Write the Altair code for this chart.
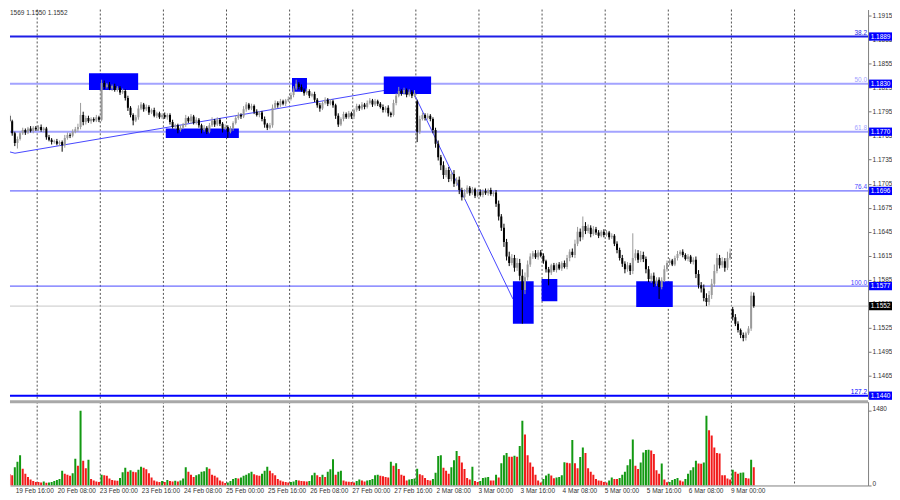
import altair as alt
import pandas as pd

FONT = "Liberation Sans"

# ---------------- hourly closes (EURUSD H1) ----------------
close_19feb = [1.1783, 1.1768, 1.1756, 1.1761, 1.1768, 1.1772, 1.1769, 1.1774, 1.1771, 1.1775, 1.1773]
close_20feb = [1.1776, 1.1772, 1.1774, 1.1763, 1.1760, 1.1757, 1.1758, 1.1755, 1.1757, 1.1753, 1.1762, 1.1766,
               1.1765, 1.1770, 1.1773, 1.1776, 1.1791, 1.1782, 1.1787, 1.1783, 1.1786, 1.1784, 1.1788, 1.1785]
close_23feb = [1.1831, 1.1826, 1.1829, 1.1824, 1.1827, 1.1822, 1.1825, 1.1819, 1.1821, 1.1812, 1.1800, 1.1791,
               1.1784, 1.1788, 1.1799, 1.1804, 1.1798, 1.1801, 1.1794, 1.1797, 1.1790, 1.1793, 1.1788, 1.1791]
close_24feb = [1.1788, 1.1791, 1.1782, 1.1776, 1.1778, 1.1772, 1.1775, 1.1779, 1.1787, 1.1783, 1.1789, 1.1781,
               1.1785, 1.1778, 1.1772, 1.1775, 1.1770, 1.1778, 1.1784, 1.1779, 1.1785, 1.1780, 1.1774, 1.1776]
close_25feb = [1.1770, 1.1774, 1.1781, 1.1787, 1.1791, 1.1789, 1.1798, 1.1804, 1.1799, 1.1802, 1.1795, 1.1791,
               1.1794, 1.1786, 1.1779, 1.1775, 1.1778, 1.1800, 1.1806, 1.1803, 1.1808, 1.1805, 1.1809, 1.1811]
close_26feb = [1.1816, 1.1824, 1.1830, 1.1826, 1.1822, 1.1818, 1.1821, 1.1815, 1.1817, 1.1810, 1.1803, 1.1799,
               1.1806, 1.1810, 1.1805, 1.1808, 1.1803, 1.1790, 1.1779, 1.1786, 1.1792, 1.1788, 1.1793, 1.1789]
close_27feb = [1.1797, 1.1802, 1.1799, 1.1804, 1.1801, 1.1806, 1.1809, 1.1804, 1.1808, 1.1805, 1.1801, 1.1797,
               1.1800, 1.1793, 1.1791, 1.1806, 1.1815, 1.1821, 1.1818, 1.1822, 1.1816, 1.1820, 1.1815, 1.1818]
close_2mar = [1.1770, 1.1786, 1.1791, 1.1787, 1.1790, 1.1786, 1.1772, 1.1755, 1.1738, 1.1728, 1.1716, 1.1722,
              1.1711, 1.1717, 1.1705, 1.1710, 1.1697, 1.1688, 1.1694, 1.1700, 1.1693, 1.1698, 1.1690, 1.1695]
close_3mar = [1.1691, 1.1696, 1.1693, 1.1697, 1.1692, 1.1694, 1.1680, 1.1664, 1.1650, 1.1632, 1.1614, 1.1606,
              1.1612, 1.1600, 1.1606, 1.1590, 1.1572, 1.1588, 1.1604, 1.1614, 1.1618, 1.1613, 1.1619, 1.1615]
close_4mar = [1.1608, 1.1598, 1.1594, 1.1603, 1.1597, 1.1604, 1.1599, 1.1606, 1.1601, 1.1612, 1.1620, 1.1616,
              1.1630, 1.1645, 1.1638, 1.1652, 1.1646, 1.1650, 1.1642, 1.1648, 1.1644, 1.1640, 1.1645, 1.1641]
close_5mar = [1.1644, 1.1638, 1.1640, 1.1630, 1.1622, 1.1612, 1.1605, 1.1598, 1.1603, 1.1596, 1.1612, 1.1618,
              1.1610, 1.1616, 1.1611, 1.1598, 1.1586, 1.1590, 1.1580, 1.1585, 1.1576, 1.1584, 1.1598, 1.1606]
close_6mar = [1.1609, 1.1604, 1.1612, 1.1617, 1.1620, 1.1616, 1.1611, 1.1614, 1.1607, 1.1610, 1.1592, 1.1578,
              1.1574, 1.1562, 1.1557, 1.1566, 1.1580, 1.1596, 1.1612, 1.1603, 1.1608, 1.1600, 1.1612, 1.1618]
close_9mar = [1.1538, 1.1530, 1.1522, 1.1516, 1.1512, 1.1518, 1.1524, 1.1565, 1.1552]

first_open = 1.1790
gap_open_index = [155, 275]
gap_open_price = [1.1808, 1.1548]

# ---------------- wick lengths in pips (upper / lower) ----------------
up_19feb = [3, 2, 2, 3, 2, 3, 2, 2, 3, 2, 2]
lo_19feb = [2, 3, 4, 7, 2, 2, 3, 2, 2, 3, 2]
up_20feb = [2, 3, 2, 2, 3, 2, 2, 3, 2, 2, 4, 3, 2, 3, 3, 4, 15, 4, 3, 3, 2, 2, 3, 2]
lo_20feb = [2, 2, 3, 3, 2, 3, 2, 2, 3, 8, 3, 2, 3, 2, 2, 3, 3, 4, 3, 2, 3, 2, 2, 3]
up_23feb = [4, 3, 2, 3, 2, 3, 2, 2, 3, 2, 3, 2, 2, 3, 4, 3, 2, 3, 2, 2, 3, 2, 2, 2]
lo_23feb = [2, 3, 2, 2, 3, 2, 2, 3, 2, 3, 4, 3, 6, 2, 3, 2, 3, 2, 3, 2, 2, 3, 2, 2]
up_24feb = [3, 2, 2, 3, 2, 2, 3, 2, 4, 2, 3, 2, 3, 2, 2, 3, 2, 3, 4, 2, 3, 2, 2, 3]
lo_24feb = [2, 3, 3, 2, 3, 4, 2, 2, 3, 2, 3, 2, 2, 3, 4, 2, 3, 2, 2, 3, 2, 3, 5, 2]
up_25feb = [2, 3, 2, 3, 3, 2, 4, 3, 2, 3, 2, 3, 2, 2, 3, 2, 3, 4, 3, 2, 3, 2, 2, 3]
lo_25feb = [8, 2, 3, 2, 2, 3, 2, 3, 2, 2, 3, 2, 3, 3, 4, 3, 2, 3, 2, 3, 2, 2, 3, 2]
up_26feb = [3, 3, 5, 2, 3, 2, 3, 2, 2, 3, 2, 3, 2, 3, 2, 3, 2, 2, 3, 2, 3, 2, 3, 2]
lo_26feb = [2, 3, 2, 3, 2, 3, 2, 3, 2, 3, 3, 4, 2, 2, 3, 2, 3, 4, 3, 2, 3, 2, 2, 3]
up_27feb = [2, 3, 2, 3, 2, 3, 3, 2, 3, 2, 2, 3, 2, 3, 2, 4, 3, 5, 2, 3, 2, 3, 2, 4]
lo_27feb = [3, 2, 3, 2, 3, 2, 2, 3, 2, 3, 2, 3, 3, 4, 3, 2, 3, 2, 3, 2, 3, 2, 3, 2]
up_2mar = [2, 4, 3, 2, 3, 2, 2, 3, 4, 3, 5, 3, 4, 3, 5, 3, 4, 3, 4, 3, 2, 3, 2, 3]
lo_2mar = [13, 3, 2, 3, 2, 3, 4, 5, 4, 6, 5, 3, 4, 3, 4, 3, 5, 4, 3, 2, 3, 2, 3, 2]
up_3mar = [3, 2, 3, 2, 3, 2, 3, 4, 3, 5, 4, 6, 5, 4, 6, 5, 8, 6, 5, 4, 3, 4, 3, 3]
lo_3mar = [2, 3, 2, 3, 2, 3, 4, 5, 4, 6, 5, 4, 3, 5, 4, 6, 42, 5, 4, 3, 3, 2, 3, 2]
up_4mar = [3, 2, 3, 2, 3, 2, 3, 2, 3, 4, 3, 4, 5, 6, 4, 12, 5, 4, 3, 4, 3, 3, 2, 3]
lo_4mar = [3, 4, 16, 3, 2, 3, 2, 3, 2, 3, 4, 3, 4, 3, 5, 3, 4, 3, 4, 2, 3, 3, 2, 3]
up_5mar = [3, 2, 3, 2, 3, 3, 4, 3, 4, 3, 31, 5, 4, 5, 4, 3, 4, 3, 4, 3, 3, 4, 5, 3]
lo_5mar = [2, 3, 2, 3, 4, 3, 4, 5, 3, 5, 4, 3, 4, 3, 4, 5, 4, 5, 4, 3, 15, 3, 2, 3]
up_6mar = [3, 2, 3, 4, 2, 3, 2, 3, 2, 3, 4, 5, 4, 5, 6, 5, 6, 8, 6, 4, 5, 4, 8, 6]
lo_6mar = [3, 2, 2, 3, 2, 3, 2, 3, 2, 3, 5, 4, 5, 4, 5, 4, 5, 4, 3, 4, 3, 5, 3, 2]
up_9mar = [3, 4, 3, 2, 3, 2, 3, 5, 4]
lo_9mar = [4, 3, 3, 4, 4, 3, 2, 3, 2]

# ---------------- hourly tick volumes ----------------
vol_19feb = [220, 200, 360, 470, 600, 330, 230, 170, 120, 90, 70]
vol_20feb = [70, 60, 80, 55, 60, 70, 90, 110, 130, 290, 230, 210, 190, 240, 530, 390, 1480, 490, 340, 510, 130, 100, 80, 70]
vol_23feb = [210, 200, 190, 140, 110, 100, 95, 150, 260, 350, 270, 300, 270, 260, 310, 370, 350, 320, 240, 160, 100, 80, 70, 90]
vol_24feb = [70, 110, 90, 80, 95, 80, 100, 140, 360, 270, 210, 170, 200, 220, 270, 280, 360, 330, 210, 190, 160, 100, 80, 50]
vol_25feb = [60, 90, 130, 150, 140, 160, 190, 210, 240, 270, 220, 200, 190, 230, 290, 370, 290, 240, 200, 130, 100, 80, 70, 60]
vol_26feb = [70, 80, 110, 100, 90, 85, 80, 90, 200, 250, 200, 170, 210, 170, 270, 320, 520, 210, 270, 290, 100, 80, 75, 70]
vol_27feb = [60, 90, 120, 100, 80, 100, 110, 130, 200, 210, 190, 180, 170, 160, 470, 390, 440, 325, 210, 190, 100, 120, 130, 140]
vol_2mar = [330, 220, 200, 150, 110, 100, 130, 250, 585, 600, 350, 290, 230, 360, 500, 680, 585, 455, 325, 150, 120, 370, 90, 70]
vol_3mar = [90, 150, 160, 170, 100, 100, 210, 160, 440, 600, 640, 570, 570, 590, 570, 780, 1280, 1010, 600, 455, 370, 210, 100, 60]
vol_4mar = [130, 195, 230, 195, 145, 160, 170, 200, 460, 450, 440, 900, 440, 340, 565, 750, 640, 340, 270, 210, 130, 100, 95, 70]
vol_5mar = [60, 100, 160, 130, 130, 150, 210, 270, 400, 520, 910, 390, 325, 455, 650, 700, 705, 690, 620, 300, 230, 435, 120, 65]
vol_6mar = [70, 110, 130, 150, 100, 80, 130, 230, 300, 360, 490, 435, 430, 455, 1380, 1090, 990, 750, 640, 630, 200, 200, 140, 120]
vol_9mar = [310, 270, 230, 250, 255, 150, 140, 510, 360]

# ---------------- axes / annotations ----------------
day_starts = [11, 35, 59, 83, 107, 131, 155, 179, 203, 227, 251, 275, 299]
label_hours = [3, 19, 35, 51, 67, 83, 99, 115, 131, 147, 163, 179, 195, 211, 227, 243, 259, 275]
label_texts = ["19 Feb 16:00", "20 Feb 08:00", "23 Feb 00:00", "23 Feb 16:00", "24 Feb 08:00", "25 Feb 00:00",
               "25 Feb 16:00", "26 Feb 08:00", "27 Feb 00:00", "27 Feb 16:00", "2 Mar 08:00", "3 Mar 00:00",
               "3 Mar 16:00", "4 Mar 08:00", "5 Mar 00:00", "5 Mar 16:00", "6 Mar 08:00", "9 Mar 00:00"]
price_ticks = [1.1435, 1.1465, 1.1495, 1.1525, 1.1555, 1.1585, 1.1615, 1.1645, 1.1675, 1.1705,
               1.1735, 1.1765, 1.1795, 1.1825, 1.1855, 1.1885, 1.1915]
volume_ticks = [0, 1480]

levels_price = [1.1889, 1.1830, 1.1770, 1.1696, 1.1577, 1.1440]
levels_name = ["38.2", "50.0", "61.8", "76.4", "100.0", "127.2"]
levels_color = ["#1e1ee6", "#a3a3ff", "#a3a3ff", "#4848ff", "#4848ff", "#0000ff"]
levels_width = [2, 2, 2, 1, 1, 2]
bid_price = 1.1552

rect_t0 = [30.7, 59.9, 107.9, 142.8, 191.9, 202.8, 238.8]
rect_t1 = [49.4, 87.7, 113.6, 160.8, 199.8, 208.8, 252.7]
rect_top = [1.1843, 1.1774, 1.1837, 1.1839, 1.1583, 1.1586, 1.1583]
rect_bot = [1.1822, 1.1762, 1.1820, 1.1817, 1.1530, 1.1558, 1.1551]

trend_t = [-0.44, 2.56, 152.9, 191.9]
trend_p = [1.17456, 1.17431, 1.18271, 1.15610]

header_text = "1569 1.1550 1.1552"

# ---------------- build tables ----------------
closes = (close_19feb + close_20feb + close_23feb + close_24feb + close_25feb + close_26feb + close_27feb
          + close_2mar + close_3mar + close_4mar + close_5mar + close_6mar + close_9mar)
up_w = (up_19feb + up_20feb + up_23feb + up_24feb + up_25feb + up_26feb + up_27feb
        + up_2mar + up_3mar + up_4mar + up_5mar + up_6mar + up_9mar)
lo_w = (lo_19feb + lo_20feb + lo_23feb + lo_24feb + lo_25feb + lo_26feb + lo_27feb
        + lo_2mar + lo_3mar + lo_4mar + lo_5mar + lo_6mar + lo_9mar)
vols = (vol_19feb + vol_20feb + vol_23feb + vol_24feb + vol_25feb + vol_26feb + vol_27feb
        + vol_2mar + vol_3mar + vol_4mar + vol_5mar + vol_6mar + vol_9mar)

BULL, BEAR = "#9a9a9a", "#000000"
rows = []
prev = first_open
for i, c in enumerate(closes):
    o = gap_open_price[gap_open_index.index(i)] if i in gap_open_index else prev
    hi = round(max(o, c) + up_w[i] * 0.0001, 5)
    lo = round(min(o, c) - lo_w[i] * 0.0001, 5)
    rows.append({"t": i + 0.5, "open": o, "close": c, "high": hi, "low": lo,
                 "col": BULL if c > o else BEAR})
    prev = c
candles = pd.DataFrame(rows)

vrows = []
for i, v in enumerate(vols):
    up = i > 0 and v > vols[i - 1]
    vrows.append({"t": i + 0.5, "vol": v, "col": "#129912" if up else "#f21a1a"})
volumes = pd.DataFrame(vrows)

days = pd.DataFrame({"t": day_starts})
levels = pd.DataFrame({"price": levels_price + [bid_price],
                       "color": levels_color + ["#c8c8c8"],
                       "w": levels_width + [1]})
fibs = pd.DataFrame({"price": levels_price, "name": levels_name, "color": levels_color})
tags = pd.DataFrame({"price": levels_price + [bid_price],
                     "label": ["%.4f" % p for p in levels_price] + ["%.4f" % bid_price],
                     "color": ["#0000ff"] * len(levels_price) + ["#000000"]})
rects = pd.DataFrame({"t0": rect_t0, "t1": rect_t1, "top": rect_top, "bot": rect_bot})
trend = pd.DataFrame({"t": trend_t, "p": trend_p, "k": list(range(len(trend_t)))})
header = pd.DataFrame({"txt": [header_text]})

# ---------------- scales ----------------
W = 860
VH = 84
X_DOMAIN = [2.5625, 2.5625 + W / (64 / 24)]
xs = alt.Scale(domain=X_DOMAIN, nice=False, zero=False)
ys = alt.Scale(domain=[1.14363, 1.19227], nice=False, zero=False)
vs = alt.Scale(domain=[0, 1480 * VH / 75.0], nice=False, zero=False)

price_axis = alt.Axis(orient="right", values=price_ticks, format=".4f", title=None, grid=False,
                      labelFont=FONT, labelFontSize=6.5, labelColor="#333333", labelPadding=1,
                      tickSize=3, tickColor="#777777", domainColor="#808080", domainWidth=1)


def X(f):
    return alt.X(f, type="quantitative", scale=xs, axis=None)


def Y(f):
    return alt.Y(f, type="quantitative", scale=ys, axis=price_axis)


grid_main = alt.Chart(days).mark_rule(color="#505050", strokeDash=[2, 2], strokeWidth=1).encode(x=X("t"))
lvl = alt.Chart(levels).mark_rule().encode(
    y=Y("price"), color=alt.Color("color:N", scale=None), strokeWidth=alt.StrokeWidth("w:Q", scale=None))
trend_line = alt.Chart(trend).mark_line(color="#4646ff", strokeWidth=1, clip=True).encode(
    x=X("t"), y=Y("p"), order="k:O")
boxes = alt.Chart(rects).mark_rect(color="#0000ff", opacity=1, clip=True).encode(
    x=X("t0"), x2="t1", y=Y("top"), y2="bot")
wicks = alt.Chart(candles).mark_rule(strokeWidth=1, clip=True).encode(
    x=X("t"), y=Y("low"), y2="high", color=alt.Color("col:N", scale=None))
bodies = alt.Chart(candles).mark_bar(size=2, clip=True).encode(
    x=X("t"), y=Y("open"), y2="close", color=alt.Color("col:N", scale=None))
fib_txt = alt.Chart(fibs).mark_text(align="right", baseline="bottom", font=FONT, fontSize=6.5, dy=-0.5).encode(
    x=alt.value(W - 1), y=Y("price"), text="name:N", color=alt.Color("color:N", scale=None))
TAG = "M-1,-0.36L1,-0.36L1,0.36L-1,0.36Z"
tag_box = alt.Chart(tags).mark_point(shape=TAG, filled=True, size=529, opacity=1, strokeWidth=0).encode(
    x=alt.value(W + 12.5), y=Y("price"), color=alt.Color("color:N", scale=None))
tag_txt = alt.Chart(tags).mark_text(font=FONT, fontSize=6.5, color="white", align="center",
                                    baseline="middle").encode(
    x=alt.value(W + 12.5), y=Y("price"), text="label:N")
head = alt.Chart(header).mark_text(font=FONT, fontSize=6.5, color="#333333", align="left",
                                   baseline="top").encode(x=alt.value(0), y=alt.value(0), text="txt:N")

main = alt.layer(grid_main, lvl, trend_line, boxes, wicks, bodies, fib_txt, tag_box, tag_txt, head).properties(
    width=W, height=390)

label_expr = "[" + ",".join("'%s'" % s for s in label_texts) + "][round((datum.value - 3) / 16)]"
time_axis = alt.Axis(orient="bottom", values=label_hours, labelExpr=label_expr, title=None, grid=False,
                     ticks=False, tickSize=0, labelAlign="left", labelOffset=-1, labelPadding=2,
                     labelFlush=False, labelOverlap=False, labelFont=FONT, labelFontSize=6.5,
                     labelColor="#333333", domainColor="#808080", domainWidth=1)
vol_axis = alt.Axis(orient="right", values=volume_ticks, format="d", title=None, grid=False, labelFont=FONT,
                    labelFontSize=6.5, labelColor="#333333", labelPadding=1, labelOffset=-2,
                    tickSize=3, tickColor="#777777", domainColor="#808080", domainWidth=1)

grid_vol = alt.Chart(days).mark_rule(color="#505050", strokeDash=[2, 2], strokeWidth=1).encode(
    x=alt.X("t:Q", scale=xs, axis=time_axis))
sep = alt.Chart(header).mark_rule(color="#a8a8a8", strokeWidth=3).encode(y=alt.value(0))
vol_bars = alt.Chart(volumes).mark_bar(size=2, clip=True).encode(
    x=alt.X("t:Q", scale=xs, axis=time_axis),
    y=alt.Y("vol:Q", scale=vs, axis=vol_axis),
    color=alt.Color("col:N", scale=None))

vol = alt.layer(grid_vol, vol_bars, sep).properties(width=W, height=VH)

chart = alt.vconcat(main, vol, spacing=3, bounds="flush").properties(
    padding={"left": 0, "top": 0, "right": 0, "bottom": 0}, background="white"
).configure_view(stroke=None)

chart.save("out.html", embed_options={"renderer": "svg", "actions": False})
